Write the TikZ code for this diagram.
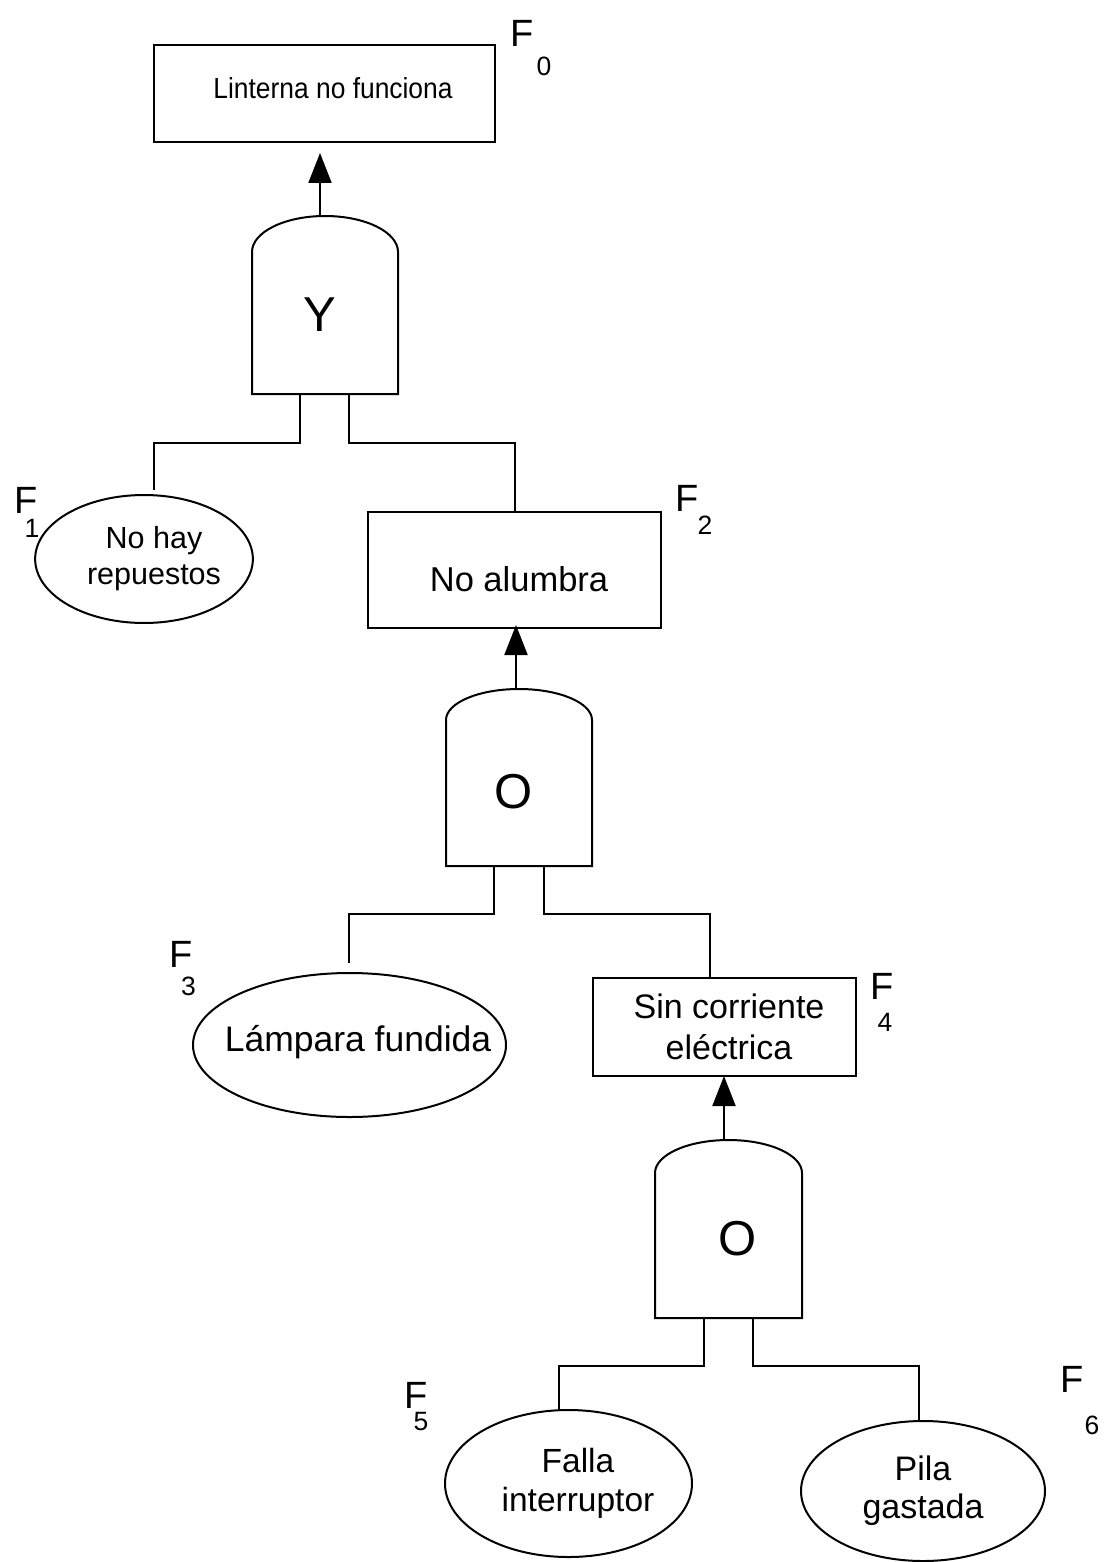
\documentclass[tikz,border=0pt]{standalone}
\usepackage{fontspec}
\setmainfont{Liberation Sans}
\usepackage{graphicx}
\usetikzlibrary{shapes.geometric,arrows.meta,calc}
\newcommand\myfs[2]{\fontsize{#1pt}{#2pt}\selectfont}
\begin{document}
\begin{tikzpicture}[x=1pt,y=-1pt,
  box/.style={draw, rectangle, line width=2pt, inner sep=0pt, outer sep=0pt},
  oval/.style={draw, ellipse, line width=2pt, inner sep=0pt, outer sep=0pt, align=center},
  etxt/.style={inner sep=0pt, anchor=base},
  conn/.style={line width=2pt},
  arr/.style={line width=2pt, -{Triangle[length=30pt,width=23pt]}},
  gate/.style={draw, line width=2pt},
  glyph/.style={inner sep=0pt, font=\myfs{49}{55}},
  fl/.style={inner sep=0pt, anchor=north west, font=\myfs{38}{40}},
  fsub/.style={inner sep=0pt, anchor=north, font=\myfs{26.5}{30}}]
\useasboundingbox (0,0) rectangle (1105,1562);

% ---- events ----
\node[box, minimum width=341pt, minimum height=97pt, font=\myfs{29}{34}, text depth=10.2pt] (f0) at (324.5,93.5)
  {\hspace*{17pt}\scalebox{0.91}[1]{Linterna no funciona}};
\node[oval, minimum width=216pt, minimum height=128pt, font=\myfs{30.5}{36}] (f1) at (144,559)
  {\hspace*{20pt}No hay\\\hspace*{20pt}repuestos};
\node[box, minimum width=293pt, minimum height=116pt, font=\myfs{34.5}{40}, text height=42pt, text depth=0pt] (f2) at (514.5,570)
  {\hspace*{9pt}No alumbra};
\node[oval, minimum width=313pt, minimum height=144pt] (f3) at (349.5,1045) {};
\node[etxt, font=\myfs{35.5}{42}] (t3) at (358,1051) {Lámpara fundida};
\node[box, minimum width=263pt, minimum height=98pt, font=\myfs{34}{41}, align=center] (f4) at (724.5,1027)
  {\hspace*{9pt}Sin corriente\\\hspace*{9pt}eléctrica};
\node[oval, minimum width=247pt, minimum height=147pt, font=\myfs{33.5}{39}] (f5) at (568.5,1483.5)
  {\hspace*{19pt}Falla\\\hspace*{19pt}interruptor};
\node[oval, minimum width=244pt, minimum height=140pt, font=\myfs{34}{38}] (f6) at (923,1491)
  {Pila\\gastada};

% ---- labels ----
\node[fl] (l0) at (510,20) {F};   \node[fsub] (l0s) at (544,57) {0};
\node[fl] (l1) at (14,487) {F};   \node[fsub] (l1s) at (32,519) {1};
\node[fl] (l2) at (675,485) {F};  \node[fsub] (l2s) at (705,516) {2};
\node[fl] (l3) at (169,941) {F};  \node[fsub] (l3s) at (188.5,977) {3};
\node[fl] (l4) at (870,973) {F};  \node[fsub] (l4s) at (885,1013) {4};
\node[fl] (l5) at (404,1382) {F}; \node[fsub] (l5s) at (421,1412) {5};
\node[fl] (l6) at (1060,1366) {F};\node[fsub] (l6s) at (1092,1416) {6};

% ---- gate Y ----
\draw[gate] (252,394) -- (252,252) arc[start angle=180, end angle=0, x radius=73pt, y radius=36pt] -- (398,394) -- cycle;
\node[glyph] (gY) at (320,315) {Y};
\coordinate (gYt) at (320,216.5);
\coordinate (gYl) at (300,394);
\coordinate (gYr) at (349,394);

% ---- gate O (middle) ----
\draw[gate] (446,866) -- (446,720) arc[start angle=180, end angle=0, x radius=73pt, y radius=31pt] -- (592,866) -- cycle;
\node[glyph] (gO1) at (514,792) {O};
\coordinate (gO1t) at (516,689.2);
\coordinate (gO1l) at (494,866);
\coordinate (gO1r) at (544,866);

% ---- gate O (bottom) ----
\draw[gate] (655,1318) -- (655,1173) arc[start angle=180, end angle=0, x radius=73.5pt, y radius=33pt] -- (802,1318) -- cycle;
\node[glyph] (gO2) at (738,1239) {O};
\coordinate (gO2t) at (724,1140.2);
\coordinate (gO2l) at (704,1318);
\coordinate (gO2r) at (753,1318);

% ---- connector ends ----
\coordinate (e1) at (154,490);
\coordinate (e3) at (349,963);
\coordinate (c4) at ($(f4.north)+(-14.5,0)$);
\coordinate (e5) at (559,1410);
\coordinate (e6) at (919,1420);

% ---- connectors ----
\draw[arr] (gYt) -- ($(gYt |- f0.south)+(0,11)$);
\draw[conn] (gYl) -- ++(0,49) -| (e1);
\draw[conn] (gYr) -- ++(0,49) -| (f2.north);

\draw[arr] (gO1t) -- ($(gO1t |- f2.south)+(0,-3)$);
\draw[conn] (gO1l) -- ++(0,48) -| (e3);
\draw[conn] (gO1r) -- ++(0,48) -| (c4);

\draw[arr] (gO2t) -- (gO2t |- f4.south);
\draw[conn] (gO2l) -- ++(0,48) -| (e5);
\draw[conn] (gO2r) -- ++(0,48) -| (e6);
\end{tikzpicture}
\end{document}
